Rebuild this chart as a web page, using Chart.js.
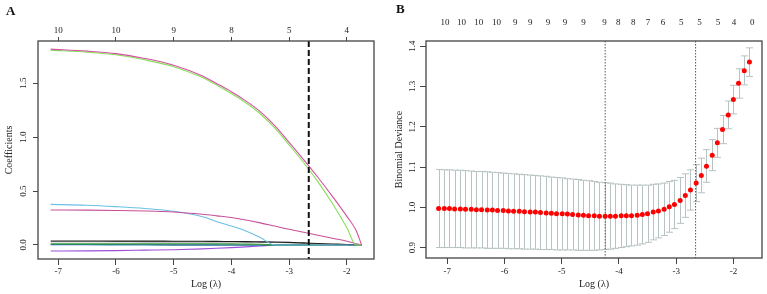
<!DOCTYPE html>
<html>
<head>
<meta charset="utf-8">
<script src="https://cdn.jsdelivr.net/npm/chart.js@4"></script>
<style>
  html, body { margin: 0; padding: 0; background: #fff; }
  #wrap { position: relative; width: 767px; height: 294px; overflow: hidden; font-family: "Liberation Serif", serif; }
  canvas { position: absolute; top: 0; }
  .tag { position: absolute; font-weight: bold; font-size: 13px; line-height: 13px; color: #111; }
</style>
</head>
<body>
<div id="wrap">
  <canvas id="coefChart" width="383" height="294" style="left:0"></canvas>
  <canvas id="cvChart" width="384" height="294" style="left:383px"></canvas>
  <div class="tag" style="left:6px;top:4px">A</div>
  <div class="tag" style="left:396px;top:2px">B</div>
</div>
<script>
// ---- panel A : coefficient paths ----
const coefLogLambda = [-7.13, -6.5, -6.0, -5.5, -5.0, -4.5, -4.25, -4.0, -3.75, -3.5, -3.25, -3.0, -2.75, -2.5, -2.25, -2.0, -1.84, -1.745];
const coefPink    = [1.815, 1.796, 1.773, 1.728, 1.665, 1.565, 1.494, 1.420, 1.335, 1.235, 1.105, 0.950, 0.790, 0.625, 0.450, 0.265, 0.135, 0];
const coefGreen   = [1.805, 1.786, 1.762, 1.716, 1.652, 1.551, 1.479, 1.404, 1.318, 1.216, 1.084, 0.927, 0.764, 0.585, 0.385, 0.160, 0, 0];
const coefSky     = [0.376, 0.368, 0.355, 0.338, 0.312, 0.262, 0.215, 0.175, 0.130, 0.070, 0, 0, 0, 0, 0, 0, 0, 0];
const coefMagenta = [0.324, 0.323, 0.320, 0.315, 0.305, 0.284, 0.270, 0.255, 0.232, 0.205, 0.175, 0.145, 0.118, 0.090, 0.062, 0.035, 0.012, 0];
const coefBlack   = [0.037, 0.037, 0.036, 0.036, 0.035, 0.034, 0.033, 0.032, 0.031, 0.029, 0.027, 0.024, 0.019, 0.014, 0.009, 0.004, 0.001, 0];
const coefGray    = [0.030, 0.030, 0.030, 0.029, 0.029, 0.028, 0.028, 0.027, 0.026, 0.025, 0.023, 0.020, 0.015, 0.008, 0, 0, 0, 0];
const coefDkGreen = [0.012, 0.012, 0.012, 0.012, 0.012, 0.011, 0.011, 0.010, 0.008, 0.006, 0, 0, 0, 0, 0, 0, 0, 0];
const coefTeal    = [0.004, 0.004, 0.003, 0.002, 0, 0, 0, 0, 0, 0, 0, 0, 0, 0, 0, 0, 0, 0];
const coefBlue    = [0.002, 0.002, 0.002, 0.002, 0.001, 0.001, 0.0005, 0, 0, 0, 0, 0, 0, 0, 0, 0, 0, 0];
const coefPurple  = [-0.056, -0.055, -0.052, -0.048, -0.044, -0.036, -0.031, -0.025, -0.018, -0.010, 0, 0, 0, 0, 0, 0, 0, 0];
const coefTicksX = [-7, -6, -5, -4, -3, -2];
const coefTopLabels = ['10', '10', '9', '8', '5', '4'];
const coefTicksY = [0, 0.5, 1.0, 1.5];
const coefCut = -2.66;

// ---- panel B : cross-validation curve ----
const cvLogLambda = [-7.15, -7.05, -6.96, -6.87, -6.77, -6.68, -6.58, -6.49, -6.40, -6.30,
  -6.21, -6.12, -6.02, -5.93, -5.84, -5.74, -5.65, -5.55, -5.46, -5.37,
  -5.27, -5.18, -5.09, -4.99, -4.90, -4.81, -4.71, -4.62, -4.53, -4.43,
  -4.34, -4.24, -4.15, -4.06, -3.96, -3.87, -3.78, -3.68, -3.59, -3.50,
  -3.40, -3.31, -3.21, -3.12, -3.03, -2.93, -2.84, -2.75, -2.65, -2.56,
  -2.47, -2.37, -2.28, -2.19, -2.09, -2.00, -1.91, -1.81, -1.72];
const cvMean = [0.997, 0.997, 0.997, 0.996, 0.996, 0.995, 0.995, 0.994, 0.994, 0.993,
  0.993, 0.992, 0.992, 0.991, 0.990, 0.990, 0.989, 0.988, 0.988, 0.987,
  0.986, 0.985, 0.984, 0.984, 0.983, 0.982, 0.981, 0.980, 0.979, 0.979,
  0.978, 0.978, 0.978, 0.978, 0.979, 0.979, 0.979, 0.980, 0.982, 0.984,
  0.988, 0.991, 0.995, 1.001, 1.007, 1.017, 1.029, 1.043, 1.060, 1.079,
  1.102, 1.129, 1.160, 1.193, 1.229, 1.268, 1.308, 1.339, 1.361];
const cvUpper = [1.094, 1.093, 1.093, 1.092, 1.092, 1.091, 1.090, 1.089, 1.089, 1.088,
  1.087, 1.086, 1.085, 1.084, 1.083, 1.082, 1.081, 1.080, 1.079, 1.078,
  1.077, 1.075, 1.074, 1.073, 1.071, 1.070, 1.069, 1.067, 1.066, 1.064,
  1.062, 1.061, 1.060, 1.058, 1.057, 1.056, 1.055, 1.055, 1.055, 1.055,
  1.057, 1.058, 1.060, 1.064, 1.067, 1.074, 1.083, 1.093, 1.106, 1.122,
  1.143, 1.168, 1.196, 1.228, 1.264, 1.303, 1.344, 1.376, 1.396];
const cvLower = [0.900, 0.900, 0.900, 0.900, 0.900, 0.899, 0.899, 0.899, 0.899, 0.898,
  0.898, 0.898, 0.898, 0.897, 0.897, 0.897, 0.896, 0.896, 0.896, 0.895,
  0.895, 0.895, 0.894, 0.894, 0.894, 0.894, 0.893, 0.893, 0.893, 0.893,
  0.894, 0.895, 0.896, 0.898, 0.900, 0.902, 0.904, 0.906, 0.909, 0.913,
  0.919, 0.924, 0.930, 0.938, 0.947, 0.960, 0.975, 0.993, 1.014, 1.036,
  1.062, 1.091, 1.124, 1.158, 1.195, 1.232, 1.271, 1.304, 1.325];
const cvTopAt = [-7.04, -6.75, -6.45, -6.14, -5.81, -5.55, -5.24, -4.94, -4.62, -4.25,
  -4.01, -3.75, -3.49, -3.23, -2.91, -2.59, -2.27, -1.99, -1.67];
const cvTopLabels = ['10', '10', '10', '10', '9', '9', '9', '9', '9', '9',
  '8', '8', '7', '6', '5', '5', '5', '4', '0'];
const cvTicksX = [-7, -6, -5, -4, -3, -2];
const cvTicksY = [0.9, 1.0, 1.1, 1.2, 1.3, 1.4];
const cvLines = [-4.24, -2.66];

// ---- shared bits ----
const FONT = 'Liberation Serif';
const tickFont = { family: FONT, size: 9 };
const titleFont = { family: FONT, size: 10 };
const AXIS = '#444';
const TXT = '#222';

const setTicks = (vals) => (s) => { s.ticks = vals.map(v => ({ value: v })); };

const boxPlugin = {
  id: 'box',
  afterDraw(c) {
    const a = c.chartArea, ctx = c.ctx;
    ctx.save();
    ctx.strokeStyle = AXIS;
    ctx.lineWidth = 1.3;
    ctx.strokeRect(a.left, a.top, a.right - a.left, a.bottom - a.top);
    ctx.restore();
  }
};

function vlines(vals, color, width, dash) {
  return {
    id: 'vlines',
    afterDatasetsDraw(c) {
      const s = c.scales.x, a = c.chartArea, ctx = c.ctx;
      ctx.save();
      ctx.strokeStyle = color;
      ctx.lineWidth = width;
      ctx.setLineDash(dash);
      vals.forEach(v => {
        const px = s.getPixelForValue(v);
        ctx.beginPath();
        ctx.moveTo(px, a.top);
        ctx.lineTo(px, a.bottom);
        ctx.stroke();
      });
      ctx.restore();
    }
  };
}

const errBars = {
  id: 'errbars',
  beforeDatasetsDraw(c) {
    const xs = c.scales.x, ys = c.scales.y, ctx = c.ctx;
    ctx.save();
    ctx.strokeStyle = '#b7c2c2';
    ctx.lineWidth = 1;
    cvLogLambda.forEach((v, i) => {
      const px = Math.round(xs.getPixelForValue(v)) + 0.5;
      const yu = ys.getPixelForValue(cvUpper[i]);
      const yl = ys.getPixelForValue(cvLower[i]);
      ctx.beginPath();
      ctx.moveTo(px, yu); ctx.lineTo(px, yl);
      ctx.moveTo(px - 3.5, yu); ctx.lineTo(px + 3.5, yu);
      ctx.moveTo(px - 3.5, yl); ctx.lineTo(px + 3.5, yl);
      ctx.stroke();
    });
    ctx.restore();
  }
};

function path(vals, color) {
  return {
    data: coefLogLambda.map((x, i) => ({ x, y: vals[i] })),
    borderColor: color,
    borderWidth: 1.1,
    pointRadius: 0,
    cubicInterpolationMode: 'monotone',
    fill: false
  };
}

// ---- chart A ----
new Chart(document.getElementById('coefChart'), {
  type: 'line',
  data: {
    datasets: [
      path(coefPink, '#d2529c'),
      path(coefGreen, '#86e05a'),
      path(coefMagenta, '#c8509a'),
      path(coefSky, '#6cbfe6'),
      path(coefBlack, '#1e1e1e'),
      path(coefGray, '#8a8a8a'),
      path(coefDkGreen, '#3b9a3b'),
      path(coefTeal, '#1f8080'),
      path(coefBlue, '#3a56c8'),
      path(coefPurple, '#9b4fd8')
    ]
  },
  options: {
    responsive: false,
    animation: false,
    devicePixelRatio: 1,
    layout: { padding: { left: 0, right: 9, top: 0, bottom: 0 } },
    plugins: { legend: { display: false }, tooltip: { enabled: false } },
    scales: {
      x: {
        type: 'linear', position: 'bottom', min: -7.35, max: -1.53,
        afterBuildTicks: setTicks(coefTicksX),
        afterFit: (s) => { s.height = 35; },
        border: { display: false },
        grid: { drawOnChartArea: false, tickLength: 6, color: AXIS },
        ticks: { font: tickFont, color: TXT, padding: 1, autoSkip: false, maxRotation: 0, callback: (v) => String(v) },
        title: { display: true, text: 'Log (λ)', font: titleFont, color: TXT, padding: { top: 0, bottom: 4 } }
      },
      x2: {
        type: 'linear', position: 'top', min: -7.35, max: -1.53,
        afterBuildTicks: setTicks(coefTicksX),
        afterFit: (s) => { s.height = 41; },
        border: { display: false },
        grid: { drawOnChartArea: false, tickLength: 4, color: AXIS },
        ticks: { font: tickFont, color: TXT, padding: 1, autoSkip: false, maxRotation: 0, callback: (v, i) => coefTopLabels[i] }
      },
      y: {
        type: 'linear', position: 'left', min: -0.13, max: 1.89,
        afterBuildTicks: setTicks(coefTicksY),
        afterFit: (s) => { s.width = 38; },
        border: { display: false },
        grid: { drawOnChartArea: false, tickLength: 5, color: AXIS },
        ticks: { font: tickFont, color: TXT, padding: 4, crossAlign: 'center', minRotation: 90, maxRotation: 90, callback: (v) => v.toFixed(1) },
        title: { display: true, text: 'Coefficients', font: titleFont, color: TXT, padding: { top: 3, bottom: 0 } }
      }
    }
  },
  plugins: [boxPlugin, vlines([coefCut], '#111', 2, [6, 3])]
});

// ---- chart B ----
new Chart(document.getElementById('cvChart'), {
  type: 'line',
  data: {
    datasets: [{
      data: cvLogLambda.map((x, i) => ({ x, y: cvMean[i] })),
      showLine: false,
      pointRadius: 2.5,
      pointBackgroundColor: '#ff0000',
      pointBorderWidth: 0
    }]
  },
  options: {
    responsive: false,
    animation: false,
    devicePixelRatio: 1,
    layout: { padding: { left: 0, right: 5, top: 0, bottom: 0 } },
    plugins: { legend: { display: false }, tooltip: { enabled: false } },
    scales: {
      x: {
        type: 'linear', position: 'bottom', min: -7.37, max: -1.50,
        afterBuildTicks: setTicks(cvTicksX),
        afterFit: (s) => { s.height = 36; },
        border: { display: false },
        grid: { drawOnChartArea: false, tickLength: 6, color: AXIS },
        ticks: { font: tickFont, color: TXT, padding: 2, autoSkip: false, maxRotation: 0, callback: (v) => String(v) },
        title: { display: true, text: 'Log (λ)', font: titleFont, color: TXT, padding: { top: 0, bottom: 4 } }
      },
      x2: {
        type: 'linear', position: 'top', min: -7.37, max: -1.50,
        afterBuildTicks: setTicks(cvTopAt),
        afterFit: (s) => { s.height = 41; },
        border: { display: false },
        grid: { display: false },
        ticks: { font: tickFont, color: TXT, padding: 5, autoSkip: false, maxRotation: 0, callback: (v, i) => cvTopLabels[i] }
      },
      y: {
        type: 'linear', position: 'left', min: 0.874, max: 1.413,
        afterBuildTicks: setTicks(cvTicksY),
        afterFit: (s) => { s.width = 43; },
        border: { display: false },
        grid: { drawOnChartArea: false, tickLength: 6, color: AXIS },
        ticks: { font: tickFont, color: TXT, padding: 2, crossAlign: 'center', minRotation: 90, maxRotation: 90, callback: (v) => v.toFixed(1) },
        title: { display: true, text: 'Binomial Deviance', font: titleFont, color: TXT, padding: { top: 10, bottom: 0 } }
      }
    }
  },
  plugins: [boxPlugin, errBars, vlines(cvLines, '#555', 1, [1.5, 1.5])]
});
</script>
</body>
</html>
